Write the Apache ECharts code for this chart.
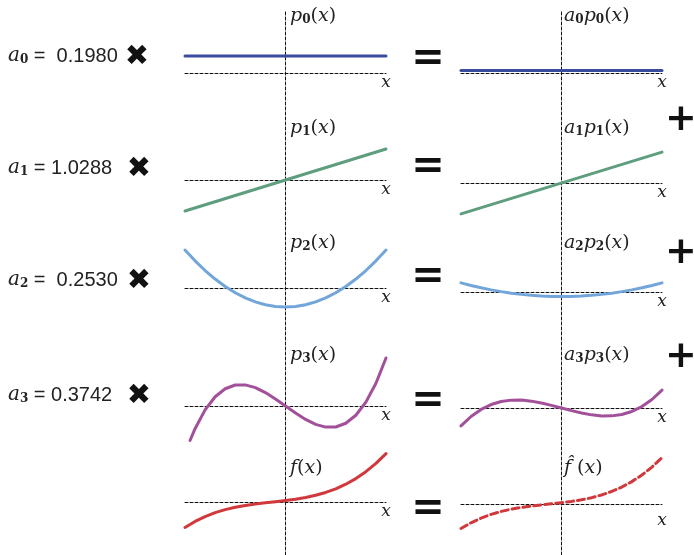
<!DOCTYPE html>
<html><head><meta charset="utf-8">
<script src="https://cdn.jsdelivr.net/npm/echarts@6/dist/echarts.min.js"></script>
<style>html,body{margin:0;padding:0;background:#fff}#c{width:694px;height:555px}</style>
</head><body><div id="c"></div>
<script>
// ---------------- data ----------------
const coefLabels = ['0.1980', '1.0288', '0.2530', '0.3742'];
const xLine = [-1, 1];
const p0 = [1, 1];
const a0p0 = [0.198, 0.198];
const p1 = [-1, 1];
const a1p1 = [-1.0288, 1.0288];
const xCurve = [-1, -0.9, -0.8, -0.7, -0.6, -0.5, -0.4, -0.3, -0.2, -0.1, 0, 0.1, 0.2, 0.3, 0.4, 0.5, 0.6, 0.7, 0.8, 0.9, 1];
const p2 = [1, 0.715, 0.46, 0.235, 0.04, -0.125, -0.26, -0.365, -0.44, -0.485, -0.5, -0.485, -0.44, -0.365, -0.26, -0.125, 0.04, 0.235, 0.46, 0.715, 1];
const a2p2 = [0.253, 0.181, 0.116, 0.059, 0.010, -0.032, -0.066, -0.092, -0.111, -0.123, -0.127, -0.123, -0.111, -0.092, -0.066, -0.032, 0.010, 0.059, 0.116, 0.181, 0.253];
const xP3 = [-0.95, -0.9, -0.8, -0.7, -0.6, -0.5, -0.4, -0.3, -0.2, -0.1, 0, 0.1, 0.2, 0.3, 0.4, 0.5, 0.6, 0.7, 0.8, 0.9, 1];
const p3 = [-0.718, -0.4725, -0.08, 0.1925, 0.36, 0.4375, 0.44, 0.3825, 0.28, 0.1475, 0, -0.1475, -0.28, -0.3825, -0.44, -0.4375, -0.36, -0.1925, 0.08, 0.4725, 1];
const a3p3 = [-0.374, -0.177, -0.030, 0.072, 0.135, 0.164, 0.165, 0.143, 0.105, 0.055, 0, -0.055, -0.105, -0.143, -0.165, -0.164, -0.135, -0.072, 0.030, 0.177, 0.374];
const f = [-0.952, -0.724, -0.539, -0.391, -0.275, -0.184, -0.115, -0.060, -0.014, 0.028, 0.072, 0.123, 0.188, 0.271, 0.379, 0.517, 0.691, 0.906, 1.167, 1.482, 1.854];
const fHat = [-0.952, -0.724, -0.539, -0.391, -0.275, -0.184, -0.115, -0.060, -0.014, 0.028, 0.072, 0.123, 0.188, 0.271, 0.379, 0.517, 0.691, 0.906, 1.167, 1.482, 1.854];

// ---------------- layout ----------------
const colLeft = [185, 461];
const colWidth = 201;
const rowsLayout = [
  { zero: [73, 73], scale: [17, 12] },
  { zero: [180, 183], scale: [31, 30] },
  { zero: [288, 292], scale: [38, 36] },
  { zero: [406, 408], scale: [48, 48] },
  { zero: [519, 519], scale: [34.6, 32.5] }
];
const colors = ['#3b4c9e', '#5f9d7f', '#72a6da', '#a2509a', '#d0383b'];
const zip = (xs, ys) => xs.map((x, i) => [x, ys[i]]);
const panels = [
  [zip(xLine, p0), zip(xLine, a0p0)],
  [zip(xLine, p1), zip(xLine, a1p1)],
  [zip(xCurve, p2), zip(xCurve, a2p2)],
  [zip(xP3, p3), zip(xCurve, a3p3)],
  [zip(xCurve, f), zip(xCurve, fHat)]
];
const dashStyle = { color: '#111', width: 1, type: [3, 2] };

const grid = [], xAxis = [], yAxis = [], series = [];
const YM = 2;
rowsLayout.forEach((r, ri) => {
  [0, 1].forEach(ci => {
    const gi = grid.length;
    grid.push({ left: colLeft[ci], width: colWidth, top: r.zero[ci] - YM * r.scale[ci], height: 2 * YM * r.scale[ci] });
    xAxis.push({
      gridIndex: gi, type: 'value', min: -1, max: 1,
      axisLine: { show: true, onZero: true, lineStyle: dashStyle },
      axisTick: { show: false }, axisLabel: { show: false }, splitLine: { show: false },
      name: 'x', nameLocation: 'end', nameGap: 0,
      nameTextStyle: { fontFamily: 'DejaVu Serif', fontStyle: 'italic', fontSize: 17, color: '#222',
        align: 'center', verticalAlign: 'top', padding: [(ri === 4 && ci === 1) ? 8 : 1, 0, 0, 0] }
    });
    yAxis.push({ gridIndex: gi, type: 'value', min: -YM, max: YM, show: false });
    const dashed = (ri === 4 && ci === 1);
    series.push({
      type: 'line', xAxisIndex: gi, yAxisIndex: gi, data: panels[ri][ci],
      smooth: false, showSymbol: false, clip: false, z: 3,
      lineStyle: { color: colors[ri], width: 3, type: dashed ? [7, 4] : 'solid', cap: 'round', join: 'round' }
    });
  });
});
// full-height vertical dashed axes for each column
[0, 1].forEach(ci => {
  const gi = grid.length;
  grid.push({ left: colLeft[ci], width: colWidth, top: 12, bottom: 0 });
  xAxis.push({ gridIndex: gi, type: 'value', min: -1, max: 1, show: false });
  yAxis.push({ gridIndex: gi, type: 'value', min: 0, max: 1,
    axisLine: { show: true, onZero: true, lineStyle: dashStyle },
    axisTick: { show: false }, axisLabel: { show: false }, splitLine: { show: false } });
});

// ---------------- text ----------------
const mathRich = {
  i: { fontFamily: 'DejaVu Serif', fontStyle: 'italic', fontSize: 19, fill: '#222' },
  s: { fontFamily: 'DejaVu Serif', fontSize: 12, fontWeight: 'bold', fill: '#222', verticalAlign: 'bottom' },
  n: { fontFamily: 'DejaVu Serif', fontSize: 19, fill: '#222' }
};
const topLabels = [
  ['{i|p}{s|0}{n|(}{i|x}{n|)}', '{i|a}{s|0}{i|p}{s|0}{n|(}{i|x}{n|)}'],
  ['{i|p}{s|1}{n|(}{i|x}{n|)}', '{i|a}{s|1}{i|p}{s|1}{n|(}{i|x}{n|)}'],
  ['{i|p}{s|2}{n|(}{i|x}{n|)}', '{i|a}{s|2}{i|p}{s|2}{n|(}{i|x}{n|)}'],
  ['{i|p}{s|3}{n|(}{i|x}{n|)}', '{i|a}{s|3}{i|p}{s|3}{n|(}{i|x}{n|)}'],
  ['{i|f}{n|(}{i|x}{n|)}', '{i|f\u0302}{n| (}{i|x}{n|)}']
];
const labelY = [16, 128, 243, 355, 468];
const labelX = [290, 564];
const graphic = [];
topLabels.forEach((pair, ri) => pair.forEach((t, ci) => {
  graphic.push({ type: 'text', x: labelX[ci], y: labelY[ri],
    style: { text: t, rich: mathRich, align: 'left', verticalAlign: 'middle' } });
}));
const leftRich = {
  i: { fontFamily: 'DejaVu Serif', fontStyle: 'italic', fontSize: 20, fill: '#222' },
  s: { fontFamily: 'DejaVu Serif', fontSize: 12, fontWeight: 'bold', fill: '#222', verticalAlign: 'bottom' },
  n: { fontFamily: "'Liberation Sans Narrow', 'Liberation Sans'", fontSize: 20, fill: '#222' }
};
const leftY = [56, 168, 280, 395];
const timesX = [137, 139, 139, 139];
coefLabels.forEach((c, i) => {
  graphic.push({ type: 'text', x: 8, y: leftY[i],
    style: { text: '{i|a}{s|' + i + '}{n| = ' + (i === 1 || i === 3 ? '' : ' ') + c + '}', rich: leftRich, align: 'left', verticalAlign: 'middle' } });
  graphic.push({ type: 'text', x: timesX[i], y: leftY[i] + 1,
    style: { text: '\u2716', font: 'bold 29px "DejaVu Sans"', fill: '#111', align: 'center', verticalAlign: 'middle' } });
});
[60, 168, 278, 402, 510].forEach(y => graphic.push({ type: 'text', x: 428, y: y,
  style: { text: '=', font: 'bold 40px "DejaVu Sans"', fill: '#111', align: 'center', verticalAlign: 'middle' } }));
[120, 253, 357].forEach(y => graphic.push({ type: 'text', x: 681, y: y,
  style: { text: '+', font: 'bold 38px "DejaVu Sans"', fill: '#111', align: 'center', verticalAlign: 'middle' } }));

const chart = echarts.init(document.getElementById('c'), null, { renderer: 'canvas' });
chart.setOption({ animation: false, backgroundColor: '#fff', grid, xAxis, yAxis, series, graphic });
</script></body></html>
